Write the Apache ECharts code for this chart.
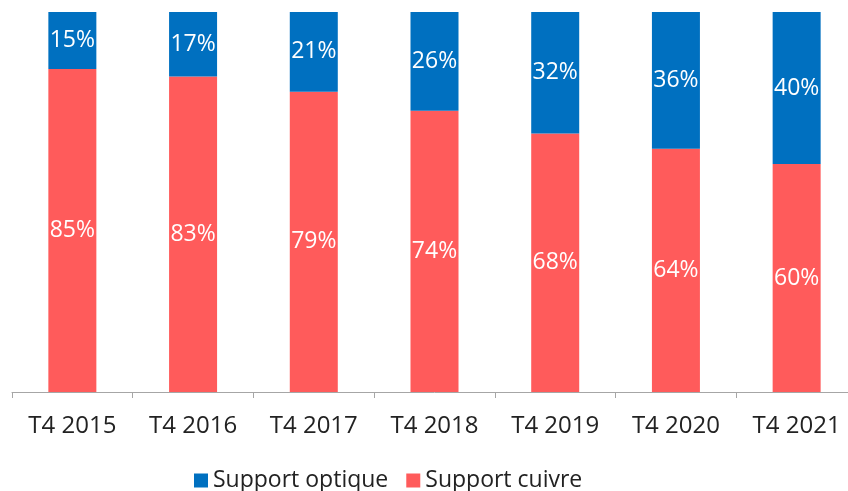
<!DOCTYPE html>
<html>
<head>
<meta charset="utf-8">
<script src="https://cdn.jsdelivr.net/npm/echarts@6/dist/echarts.min.js"></script>
<style>
  html, body { margin: 0; padding: 0; background: #fff; overflow: hidden; }
  /* axis runs past the right edge in the original, so the canvas is a bit wider */
  #main { width: 857px; height: 491px; }
</style>
</head>
<body>
<div id="main"></div>
<script>
const categories = ['T4 2015', 'T4 2016', 'T4 2017', 'T4 2018', 'T4 2019', 'T4 2020', 'T4 2021'];
const cuivre = [85, 83, 79, 74, 68, 64, 60];
const optique = [15, 17, 21, 26, 32, 36, 40];

let myChart = echarts.init(document.getElementById('main'));
const font = '"Open Sans", sans-serif';
let option = {
  animation: false,
  grid: { left: 12, right: 0, top: 12, bottom: 99 },
  legend: {
    left: 189,
    top: 464,
    itemWidth: 14,
    itemHeight: 14,
    itemGap: 18,
    icon: 'rect',
    textStyle: { fontFamily: font, fontSize: 23, color: '#222' },
    data: ['Support optique', 'Support cuivre']
  },
  xAxis: {
    type: 'category',
    data: categories,
    axisLine: { lineStyle: { color: '#a6a6a6', width: 1 } },
    axisTick: { show: true, length: 6, lineStyle: { color: '#a6a6a6' } },
    axisLabel: { fontFamily: font, fontSize: 24, color: '#222', margin: 22 }
  },
  yAxis: {
    type: 'value',
    min: 0,
    max: 100,
    show: false,
    splitLine: { show: false }
  },
  series: [
    {
      name: 'Support cuivre',
      type: 'bar',
      stack: 'total',
      barWidth: 48,
      data: cuivre,
      itemStyle: { color: '#FF5B5B' },
      label: {
        show: true,
        position: 'inside',
        formatter: '{c}%',
        color: '#fff',
        fontFamily: font,
        fontSize: 23
      }
    },
    {
      name: 'Support optique',
      type: 'bar',
      stack: 'total',
      barWidth: 48,
      data: optique,
      itemStyle: { color: '#0070C0' },
      label: {
        show: true,
        position: 'inside',
        formatter: '{c}%',
        color: '#fff',
        fontFamily: font,
        fontSize: 23
      }
    }
  ]
};
myChart.setOption(option);
</script>
</body>
</html>
